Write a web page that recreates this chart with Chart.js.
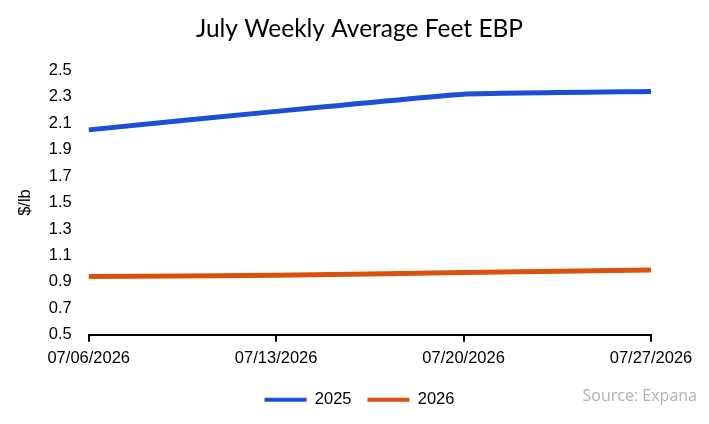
<!DOCTYPE html>
<html>
<head>
<meta charset="utf-8">
<script src="https://cdn.jsdelivr.net/npm/chart.js@4"></script>
<style>
  html, body { margin: 0; padding: 0; background: #fff; }
  #wrap { position: relative; width: 709px; height: 424px; }
  #source { position: absolute; right: 12px; top: 384px; font: 16px "Open Sans", sans-serif; color: #b0b0b0; }
</style>
</head>
<body>
<div id="wrap">
  <canvas id="chart" width="709" height="424"></canvas>
  <div id="source">Source: Expana</div>
</div>
<script>
var weeks = ['07/06/2026', '07/13/2026', '07/20/2026', '07/27/2026'];
var prices2025 = [2.05, 2.19, 2.32, 2.34];
var prices2026 = [0.94, 0.95, 0.97, 0.99];
var yMin = 0.5, yMax = 2.5, yStep = 0.2;

var tickFont = { family: 'Liberation Sans', size: 16.5 };

var ctx = document.getElementById('chart').getContext('2d');
var chart = new Chart(ctx, {
  type: 'line',
  data: {
    labels: weeks,
    datasets: [{
      label: '2025',
      data: prices2025,
      borderColor: '#1a4fd6',
      backgroundColor: '#1a4fd6',
      borderWidth: 5,
      pointRadius: 0,
      tension: 0.1
    }, {
      label: '2026',
      data: prices2026,
      borderColor: '#d9510c',
      backgroundColor: '#d9510c',
      borderWidth: 5,
      pointRadius: 0,
      tension: 0.1
    }]
  },
  options: {
    responsive: false,
    animation: false,
    layout: { padding: { left: 12, right: 2, top: 4, bottom: 6 } },
    plugins: {
      title: {
        display: true,
        text: 'July Weekly Average Feet EBP',
        color: '#000',
        font: { family: 'Lato', size: 24.5, weight: 'normal' },
        padding: { top: 10, bottom: 27 }
      },
      legend: {
        position: 'bottom',
        labels: {
          color: '#000',
          font: tickFont,
          boxWidth: 42,
          boxHeight: 4,
          padding: 16,
          generateLabels: function (c) {
            var items = Chart.defaults.plugins.legend.labels.generateLabels(c);
            items.forEach(function (it) { it.lineWidth = 0; });
            return items;
          }
        }
      },
      tooltip: { enabled: false }
    },
    scales: {
      x: {
        offset: false,
        grid: { display: true, drawOnChartArea: false, drawTicks: true, tickLength: 7, color: '#000', lineWidth: 2 },
        border: { display: true, color: '#000', width: 2 },
        ticks: { color: '#000', font: tickFont, maxRotation: 0, padding: 7 }
      },
      y: {
        min: yMin,
        max: yMax,
        grid: { display: false },
        border: { display: false },
        ticks: {
          stepSize: yStep,
          color: '#000',
          font: tickFont,
          padding: 9,
          callback: function (v) { return v.toFixed(1); }
        },
        title: {
          display: true,
          text: '$/lb',
          color: '#000',
          font: tickFont,
          padding: 4
        }
      },
      // empty right-hand gutter so the last date label fits
      gutter: {
        position: 'right',
        min: yMin,
        max: yMax,
        grid: { display: false },
        border: { display: false },
        ticks: { display: false },
        afterFit: function (scale) { scale.width = 56; }
      }
    }
  }
});
</script>
</body>
</html>
